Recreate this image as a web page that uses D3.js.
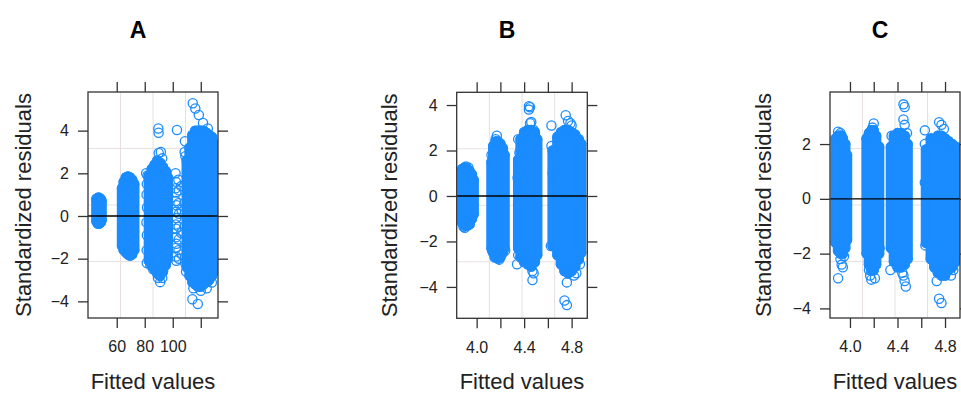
<!DOCTYPE html>
<html>
<head>
<meta charset="utf-8">
<script src="https://cdn.jsdelivr.net/npm/d3@7"></script>
<style>
  body { margin: 0; background: #fff; }
  svg { font-family: "Liberation Sans", Arial, sans-serif; }
</style>
</head>
<body>
<svg width="961" height="393"></svg>
<script>
// panel titles and axis ticks
const titles = ['A', 'B', 'C']
const xTicksA = [60, 80, 100, 120]
const xLabelsA = ['60', '80', '100', '']
const xTicksBC = [4.0, 4.2, 4.4, 4.6, 4.8]
const xLabelsBC = ['4.0', '', '4.4', '', '4.8']
const yTicksAB = [-4, -2, 0, 2, 4]
const yTicksC = [-4, -2, 0, 2]

// dense columns of residuals: [fitted, lowest, highest]
const strandsA = [
  [45.5, -0.25, 0.8], [46.5, -0.35, 0.85], [47.5, -0.35, 0.85], [48.5, -0.3, 0.8], [49.2, -0.2, 0.7],
  [63.8, -1.4, 1.3], [65, -1.6, 1.6], [66.5, -1.7, 1.8], [68, -1.8, 1.85], [69.5, -1.85, 1.8], [71, -1.8, 1.7], [72.5, -1.6, 1.5],
  [83, -2.1, 1.9], [85, -2.3, 2.2], [87, -2.5, 2.4], [89, -2.7, 2.6], [91, -2.8, 2.5], [93, -2.6, 2.3], [95, -2.3, 2.1], [96.5, -2.0, 1.8],
  [110, -2.4, 2.6], [112, -2.8, 3.2], [114, -3.1, 3.8], [116, -3.2, 4.0], [118, -3.3, 4.0], [120, -3.3, 4.0],
  [122, -3.2, 4.0], [124, -3.1, 3.9], [126, -3.0, 3.8], [128, -2.8, 3.7], [129.5, -2.6, 3.4]
]
// single circles around the dense columns: [fitted, residual]
const pointsA = [
  [81, 2.0], [81.5, 1.5], [81.3, 1.0], [81.6, 0.4], [81.2, -0.3], [81.5, -0.9], [81.4, -1.6], [81.5, -2.2],
  [82, 1.9], [84, -2.3], [86, -2.5], [88, 2.4], [93.5, 2.2],
  [89.7, 4.1], [89.9, 3.9], [90, 2.95], [91.5, 3.0], [92.5, 2.7],
  [89.5, -2.9], [91, -3.1], [92.5, -2.9],
  [102, 2.0], [102.3, 1.6], [102.1, 1.3], [102.5, 1.1], [102.2, 0.7], [102.6, 0.5], [102.3, 0.2], [102.5, -0.1],
  [102.2, -0.4], [102.4, -0.6], [102.3, -1.0], [102.6, -1.3], [102.2, -1.5], [102.4, -1.9], [102.5, -2.1],
  [104, 1.7], [104.3, 1.2], [104.1, 0.6], [104.4, 0.1], [104.2, -0.5], [104.3, -1.1], [104.1, -1.6], [104.4, -2.0],
  [106, 1.4], [106.2, 0.3], [106, -0.8], [106.3, -1.8], [103, 4.03],
  [108.5, 3.0], [109, 2.8], [108.7, 3.5], [109.5, -2.6], [108.8, -2.2],
  [114.3, 5.28], [116.1, 5.04], [118.6, 4.73], [121.6, 4.36], [125, 4.1],
  [114.7, -3.39], [114, -3.9], [117.9, -4.12], [124.3, -3.39], [127.9, -3.12], [120, -3.5]
]

const strandsB = [
  [3.88, -1.2, 1.2], [3.90, -1.3, 1.25], [3.92, -1.3, 1.2], [3.94, -1.25, 1.1], [3.96, -1.0, 0.95], [3.975, -0.8, 0.7],
  [4.125, -2.3, 1.5], [4.14, -2.5, 2.2], [4.16, -2.7, 2.4], [4.18, -2.75, 2.4], [4.20, -2.7, 2.3], [4.22, -2.5, 2.1], [4.235, -2.3, 1.8],
  [4.35, -2.3, 1.6], [4.37, -2.7, 2.5], [4.40, -2.9, 2.8], [4.43, -3.0, 2.9], [4.46, -3.1, 2.9], [4.49, -2.9, 2.8], [4.51, -2.6, 2.5],
  [4.64, -2.2, 2.0],
  [4.68, -2.6, 2.6], [4.71, -3.0, 2.8], [4.74, -3.3, 2.9], [4.77, -3.4, 2.9], [4.80, -3.3, 2.8], [4.83, -3.1, 2.7], [4.86, -2.8, 2.5], [4.88, -2.5, 2.3]
]
const pointsB = [
  [3.90, -1.4], [3.89, -1.35], [3.91, 1.3], [3.93, 1.25],
  [4.17, 2.65], [4.16, 2.5], [4.13, -2.4], [4.15, -2.7], [4.19, -2.8], [4.24, -2.4], [4.125, 1.8],
  [4.44, 3.95], [4.45, 3.9], [4.44, 3.8], [4.45, 3.2], [4.46, 3.25], [4.48, 2.9], [4.35, 2.5], [4.34, -3.0],
  [4.35, -2.6], [4.47, -3.3], [4.48, -3.4], [4.47, -3.7], [4.36, 1.9], [4.345, 0.8],
  [4.63, 3.1], [4.63, 2.2], [4.625, -2.2], [4.64, 1.0],
  [4.75, 3.55], [4.77, 3.3], [4.79, 3.2], [4.80, 3.1], [4.76, -3.8], [4.74, -4.6], [4.76, -4.8],
  [4.84, -3.4], [4.87, -3.0], [4.82, -3.5]
]

const strandsC = [
  [3.88, -1.6, 2.2], [3.90, -1.9, 2.3], [3.92, -2.0, 2.3], [3.94, -2.0, 2.2], [3.96, -1.8, 2.0], [3.975, -1.5, 1.6],
  [4.14, -2.0, 2.2], [4.16, -2.4, 2.4], [4.18, -2.6, 2.5], [4.20, -2.6, 2.5], [4.22, -2.4, 2.3], [4.245, -2.0, 1.9],
  [4.345, -1.8, 1.9], [4.37, -2.3, 2.3], [4.40, -2.5, 2.4], [4.43, -2.5, 2.4], [4.46, -2.4, 2.3], [4.485, -2.2, 2.0],
  [4.64, -1.6, 1.8],
  [4.68, -2.2, 2.2], [4.71, -2.5, 2.2], [4.74, -2.7, 2.3], [4.77, -2.8, 2.3], [4.80, -2.8, 2.2], [4.83, -2.6, 2.1], [4.86, -2.5, 2.0], [4.89, -2.3, 1.9]
]
const pointsC = [
  [3.90, 2.45], [3.92, 2.4], [3.93, 2.3], [3.92, -2.2], [3.93, -2.4], [3.94, -2.5], [3.90, -2.9], [3.95, -2.1],
  [4.20, 2.75], [4.19, 2.6], [4.17, -2.8], [4.18, -2.95], [4.16, -2.6], [4.21, -2.9], [4.25, -1.8], [4.24, 1.5],
  [4.45, 3.45], [4.46, 3.35], [4.45, 2.9], [4.46, 2.7], [4.35, 2.3], [4.34, -2.6], [4.45, -2.8], [4.46, -3.0],
  [4.47, -3.2], [4.44, -2.7], [4.48, 2.4],
  [4.63, 2.5], [4.63, 2.0], [4.635, -1.7], [4.63, 0.6],
  [4.75, 2.8], [4.77, 2.7], [4.79, 2.55], [4.73, -3.0], [4.75, -3.65], [4.77, -3.8], [4.85, -2.8], [4.87, -2.6]
]

const blue = '#1a8cff'
const ink = '#222'
const svg = d3.select('svg')

const panels = [
  { title: titles[0], titleX: 138, box: [88, 218, 92, 318], xDom: [39.5, 132.3], yDom: [-4.78, 5.81],
    xTicks: xTicksA, xLabels: xLabelsA, yTicks: yTicksAB, strands: strandsA, points: pointsA, yLabelX: 31 },
  { title: titles[1], titleX: 507, box: [456.7, 587.3, 92.3, 318.3], xDom: [3.832, 4.932], yDom: [-5.38, 4.56],
    xTicks: xTicksBC, xLabels: xLabelsBC, yTicks: yTicksAB, strands: strandsB, points: pointsB, yLabelX: 397 },
  { title: titles[2], titleX: 880, box: [830, 960, 92, 318], xDom: [3.832, 4.926], yDom: [-4.35, 3.9],
    xTicks: xTicksBC, xLabels: xLabelsBC, yTicks: yTicksC, strands: strandsC, points: pointsC, yLabelX: 771 }
]

panels.forEach((p, i) => {
  const [x0, x1, y0, y1] = p.box
  const x = d3.scaleLinear().domain(p.xDom).range([x0, x1])
  const y = d3.scaleLinear().domain(p.yDom).range([y1, y0])
  const g = svg.append('g')

  // grid, lattice style: quarters of the panel
  const qx = [1, 2, 3].map(k => p.xDom[0] + (p.xDom[1] - p.xDom[0]) * k / 4)
  const qy = [1, 2, 3].map(k => p.yDom[0] + (p.yDom[1] - p.yDom[0]) * k / 4)
  g.selectAll('.gx').data(qx).join('line')
      .attr('x1', d => x(d)).attr('x2', d => x(d)).attr('y1', y0).attr('y2', y1)
      .attr('stroke', '#e8e0e0').attr('stroke-width', 1)
  g.selectAll('.gy').data(qy).join('line')
      .attr('y1', d => y(d)).attr('y2', d => y(d)).attr('x1', x0).attr('x2', x1)
      .attr('stroke', '#e8e0e0').attr('stroke-width', 1)

  const clipId = 'clip' + i
  svg.append('clipPath').attr('id', clipId)
    .append('rect').attr('x', x0).attr('y', y0).attr('width', x1 - x0).attr('height', y1 - y0)
  const marks = g.append('g').attr('clip-path', `url(#${clipId})`)

  marks.selectAll('line.strand').data(p.strands).join('line')
      .attr('class', 'strand')
      .attr('x1', d => x(d[0])).attr('x2', d => x(d[0]))
      .attr('y1', d => y(d[1])).attr('y2', d => y(d[2]))
      .attr('stroke', blue).attr('stroke-width', 10.5).attr('stroke-linecap', 'round')
  marks.selectAll('circle.end').data(p.strands.flatMap(d => [[d[0], d[1]], [d[0], d[2]]])).join('circle')
      .attr('class', 'end')
      .attr('cx', d => x(d[0])).attr('cy', d => y(d[1])).attr('r', 4.6)
      .attr('fill', 'none').attr('stroke', blue).attr('stroke-width', 1.3)
  marks.selectAll('circle.pt').data(p.points).join('circle')
      .attr('class', 'pt')
      .attr('cx', d => x(d[0])).attr('cy', d => y(d[1])).attr('r', 4.6)
      .attr('fill', 'none').attr('stroke', blue).attr('stroke-width', 1.3)

  // zero reference line
  g.append('line')
      .attr('x1', x0).attr('x2', x1).attr('y1', y(0)).attr('y2', y(0))
      .attr('stroke', '#000').attr('stroke-width', 1.3)

  // axes
  const styleAxis = sel => {
    sel.select('.domain').remove()
    sel.selectAll('.tick line').attr('stroke', '#333').attr('stroke-width', 1.3)
    sel.selectAll('.tick text').attr('fill', ink).style('font-size', '16px')
  }
  g.append('g').attr('transform', `translate(0,${y1})`)
    .call(d3.axisBottom(x).tickValues(p.xTicks).tickSize(10).tickPadding(13).tickFormat((d, k) => p.xLabels[k]))
    .call(styleAxis)
  g.append('g').attr('transform', `translate(0,${y0})`)
    .call(d3.axisTop(x).tickValues(p.xTicks).tickSize(10).tickFormat(''))
    .call(styleAxis)
  g.append('g').attr('transform', `translate(${x0},0)`)
    .call(d3.axisLeft(y).tickValues(p.yTicks).tickSize(10).tickPadding(9).tickFormat(d3.format('d')))
    .call(styleAxis)
  g.append('g').attr('transform', `translate(${x1},0)`)
    .call(d3.axisRight(y).tickValues(p.yTicks).tickSize(10).tickFormat(''))
    .call(styleAxis)
  g.selectAll('text').attr('font-family', null)

  g.append('rect')
      .attr('x', x0).attr('y', y0).attr('width', x1 - x0).attr('height', y1 - y0)
      .attr('fill', 'none').attr('stroke', '#333').attr('stroke-width', 1.3)

  // labels
  g.append('text').attr('x', p.titleX).attr('y', 38).attr('text-anchor', 'middle')
      .style('font-size', '23px').style('font-weight', 'bold').attr('fill', '#000').text(p.title)
  g.append('text').attr('x', (x0 + x1) / 2).attr('y', 389).attr('text-anchor', 'middle')
      .style('font-size', '22px').attr('fill', ink).text('Fitted values')
  g.append('text').attr('transform', `translate(${p.yLabelX},${(y0 + y1) / 2}) rotate(-90)`)
      .attr('text-anchor', 'middle')
      .style('font-size', '22px').attr('fill', ink).text('Standardized residuals')
})
</script>
</body>
</html>
